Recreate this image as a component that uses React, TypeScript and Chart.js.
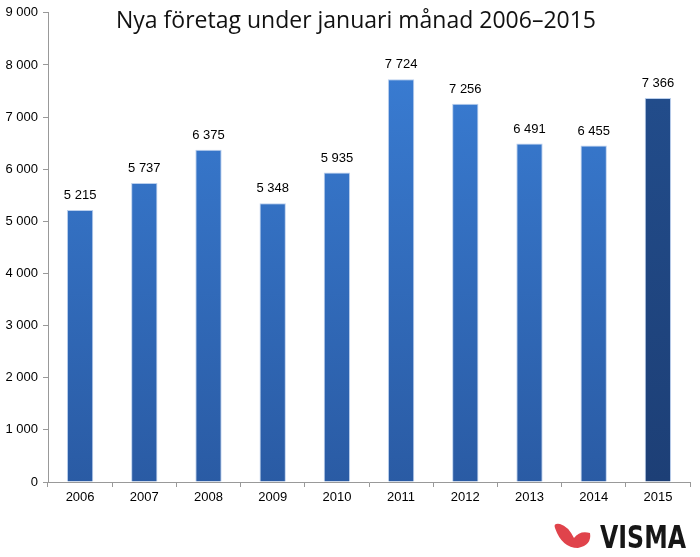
import React, { useEffect, useRef } from "react";
import { Chart, registerables } from "chart.js";

Chart.register(...registerables);

const categories = ["2006", "2007", "2008", "2009", "2010", "2011", "2012", "2013", "2014", "2015"];
const values = [5215, 5737, 6375, 5348, 5935, 7724, 7256, 6491, 6455, 7366];
const yTicks = [0, 1000, 2000, 3000, 4000, 5000, 6000, 7000, 8000, 9000];
const title = "Nya företag under januari månad 2006–2015";
const logoText = "VISMA";

const fmt = (v: number) => String(Math.round(v)).replace(/\B(?=(\d{3})+(?!\d))/g, " ");

const decorPlugin = {
  id: "decor",
  afterDatasetsDraw(chart: any) {
    const ctx = chart.ctx;
    const meta = chart.getDatasetMeta(0);
    ctx.save();
    ctx.fillStyle = "#000";
    ctx.font = "13px 'Liberation Sans', Arial, sans-serif";
    ctx.textAlign = "center";
    ctx.textBaseline = "bottom";
    meta.data.forEach((bar: any, i: number) => {
      ctx.fillText(fmt(values[i]), bar.x, bar.y - 8);
    });
    ctx.restore();
  },
  afterDraw(chart: any) {
    const ctx = chart.ctx;
    ctx.save();
    // title
    ctx.fillStyle = "#111";
    ctx.font = "23px 'Open Sans', 'DejaVu Sans', sans-serif";
    ctx.textAlign = "center";
    ctx.textBaseline = "middle";
    ctx.fillText(title, 356, 21);
    // logo swoosh
    ctx.fillStyle = "#e0434b";
    ctx.beginPath();
    ctx.moveTo(555, 528);
    ctx.quadraticCurveTo(553, 523, 560, 524);
    ctx.quadraticCurveTo(568, 526, 574, 538);
    ctx.quadraticCurveTo(580, 530, 590, 533);
    ctx.quadraticCurveTo(592, 545, 578, 548);
    ctx.quadraticCurveTo(562, 548, 555, 528);
    ctx.closePath();
    ctx.fill();
    // logo text
    ctx.fillStyle = "#161616";
    ctx.font = "bold 32px 'Liberation Sans Narrow', 'DejaVu Sans Condensed', sans-serif";
    ctx.textAlign = "left";
    ctx.textBaseline = "alphabetic";
    const w = ctx.measureText(logoText).width;
    ctx.translate(600, 548);
    ctx.scale(86 / w, 1);
    ctx.fillText(logoText, 0, 0);
    ctx.restore();
  },
};

export default function App() {
  const ref = useRef<HTMLCanvasElement>(null);
  useEffect(() => {
    document.body.style.margin = "0";
    const canvas = ref.current!;
    const ctx = canvas.getContext("2d")!;
    const bg = (c: any) => {
      const chart = c.chart;
      const area = chart.chartArea;
      if (!area) return "#2f6cc0";
      const g = chart.ctx.createLinearGradient(0, area.top, 0, area.bottom);
      if (c.dataIndex === values.length - 1) {
        g.addColorStop(0, "#234f8f");
        g.addColorStop(1, "#1d3f76");
      } else {
        g.addColorStop(0, "#3b80d8");
        g.addColorStop(1, "#2a5ba4");
      }
      return g;
    };
    const chart = new Chart(ctx, {
      type: "bar",
      data: {
        labels: categories,
        datasets: [
          {
            data: values,
            backgroundColor: bg,
            borderColor: "rgba(140,175,225,0.6)",
            borderWidth: 1,
            barPercentage: 0.41,
            categoryPercentage: 1,
          },
        ],
      },
      options: {
        animation: false,
        responsive: false,
        layout: { padding: { top: 11, right: 10, left: 0, bottom: 0 } },
        plugins: { legend: { display: false }, tooltip: { enabled: false }, title: { display: false } },
        scales: {
          x: {
            grid: { offset: true, drawOnChartArea: false, tickLength: 5, color: "#999" },
            border: { color: "#999", width: 1 },
            ticks: { color: "#000", padding: 3, font: { size: 13, family: "'Liberation Sans', Arial, sans-serif" } },
            afterFit: (s: any) => { s.height = 75; },
          },
          y: {
            min: 0,
            max: 9000,
            afterBuildTicks: (s: any) => { s.ticks = yTicks.map((v) => ({ value: v })); },
            grid: { drawOnChartArea: false, tickLength: 5, color: "#999" },
            border: { color: "#999", width: 1 },
            ticks: {
              color: "#000",
              padding: 5,
              font: { size: 13, family: "'Liberation Sans', Arial, sans-serif" },
              callback: (v: any) => fmt(Number(v)),
            },
            afterFit: (s: any) => { s.width = 48; },
          },
        },
      },
      plugins: [decorPlugin],
    });
    return () => chart.destroy();
  }, []);
  return (
    <div style={{ width: 700, height: 557, background: "#fff" }}>
      <canvas ref={ref} width={700} height={557} style={{ display: "block" }} />
    </div>
  );
}
